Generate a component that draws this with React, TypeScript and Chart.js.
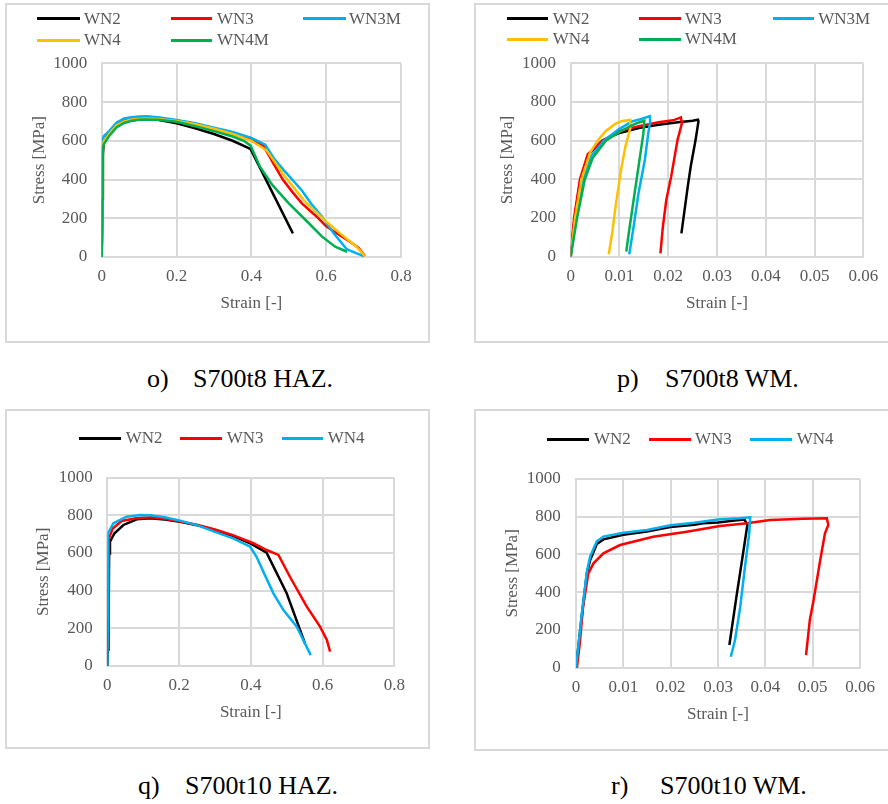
import React, { useEffect, useRef } from "react";
import { Chart, registerables } from "chart.js";
Chart.register(...registerables);

type Pt = [number, number];

// ---------- o) S700t8 HAZ ----------
const o_WN2: Pt[] = [[0,0],[0.002,300],[0.003,520],[0.005,585],[0.01,610],[0.02,635],[0.04,675],[0.06,695],[0.08,705],[0.1,710],[0.12,712],[0.15,708],[0.2,690],[0.25,665],[0.3,635],[0.35,600],[0.39,565],[0.398,557],[0.45,357],[0.511,122]];
const o_WN3: Pt[] = [[0,0],[0.002,300],[0.003,560],[0.006,600],[0.02,640],[0.04,685],[0.06,705],[0.08,715],[0.1,720],[0.12,720],[0.15,716],[0.2,705],[0.25,685],[0.3,662],[0.35,638],[0.4,608],[0.432,575],[0.46,480],[0.484,400],[0.51,335],[0.535,277],[0.575,208],[0.6,158],[0.63,120],[0.655,90],[0.686,48],[0.704,5]];
const o_WN3M: Pt[] = [[0,0],[0.002,430],[0.003,610],[0.006,625],[0.02,650],[0.04,695],[0.06,715],[0.08,722],[0.1,726],[0.12,727],[0.15,722],[0.2,708],[0.25,690],[0.3,668],[0.35,645],[0.4,615],[0.437,580],[0.46,510],[0.486,450],[0.534,346],[0.56,275],[0.589,208],[0.62,122],[0.655,40],[0.68,20],[0.7,5]];
const o_WN4: Pt[] = [[0,0],[0.002,350],[0.003,570],[0.006,600],[0.02,635],[0.04,680],[0.06,700],[0.08,710],[0.1,714],[0.12,715],[0.15,712],[0.2,702],[0.25,685],[0.3,662],[0.35,635],[0.4,600],[0.44,552],[0.49,415],[0.54,294],[0.595,191],[0.637,122],[0.681,53],[0.704,5]];
const o_WN4M: Pt[] = [[0,0],[0.002,300],[0.003,560],[0.005,580],[0.02,625],[0.04,670],[0.06,692],[0.08,703],[0.1,708],[0.12,710],[0.15,708],[0.2,698],[0.25,675],[0.3,650],[0.35,622],[0.38,600],[0.398,575],[0.423,466],[0.456,372],[0.5,277],[0.545,191],[0.589,105],[0.624,53],[0.656,27]];

// ---------- p) S700t8 WM ----------
const p_WN2: Pt[] = [[0,0],[0.0008,200],[0.002,400],[0.0037,530],[0.0065,600],[0.01,640],[0.014,665],[0.018,682],[0.022,695],[0.025,703],[0.0261,708],[0.0262,700],[0.0256,603],[0.0246,465],[0.024,362],[0.0227,121]];
const p_WN3: Pt[] = [[0,0],[0.0007,200],[0.0019,400],[0.0035,530],[0.0065,600],[0.01,650],[0.014,675],[0.018,695],[0.021,705],[0.0226,720],[0.0228,690],[0.0219,603],[0.0206,414],[0.0196,293],[0.0189,155],[0.0184,17]];
const p_WN3M: Pt[] = [[0,0],[0.001,200],[0.0025,400],[0.0042,520],[0.0068,600],[0.0099,660],[0.0126,700],[0.0145,712],[0.0162,727],[0.0163,700],[0.0159,638],[0.0152,500],[0.0139,328],[0.0129,155],[0.012,12]];
const p_WN4: Pt[] = [[0,0],[0.0009,200],[0.0022,400],[0.004,540],[0.0055,600],[0.0072,650],[0.0092,688],[0.0106,702],[0.0122,707],[0.0122,663],[0.0112,569],[0.0102,431],[0.0092,259],[0.0085,121],[0.0078,12]];
const p_WN4M: Pt[] = [[0,0],[0.0013,200],[0.0029,400],[0.0045,510],[0.0072,600],[0.01,645],[0.012,672],[0.0135,690],[0.0151,703],[0.0149,638],[0.0139,465],[0.0129,293],[0.0119,121],[0.0114,26]];

// ---------- q) S700t10 HAZ ----------
const q_WN2: Pt[] = [[0,0],[0.004,300],[0.005,598],[0.0075,660],[0.02,705],[0.045,749],[0.082,779],[0.119,784],[0.16,778],[0.203,766],[0.25,748],[0.3,722],[0.351,690],[0.4,650],[0.444,602],[0.5,386],[0.551,120]];
const q_WN3: Pt[] = [[0.004,80],[0.004,140],[0.004,500],[0.005,680],[0.015,730],[0.04,770],[0.08,785],[0.12,790],[0.16,782],[0.2,768],[0.25,750],[0.3,725],[0.35,695],[0.407,652],[0.444,616],[0.477,590],[0.509,474],[0.556,315],[0.593,209],[0.612,138],[0.621,76]];
const q_WN4: Pt[] = [[0,0],[0.002,300],[0.002,705],[0.017,758],[0.054,793],[0.091,802],[0.12,800],[0.16,790],[0.203,772],[0.25,748],[0.3,712],[0.351,678],[0.398,634],[0.416,580],[0.44,480],[0.463,386],[0.491,297],[0.528,209],[0.551,120],[0.567,58]];

// ---------- r) S700t10 WM ----------
const r_WN2: Pt[] = [[0,0],[0.0012,270],[0.0023,500],[0.003,571],[0.0044,655],[0.0058,680],[0.01,705],[0.015,722],[0.0199,745],[0.025,758],[0.0269,765],[0.03,770],[0.0335,780],[0.0356,785],[0.0362,756],[0.0353,606],[0.034,394],[0.0324,120]];
const r_WN3: Pt[] = [[0.0002,0],[0.0008,129],[0.0015,323],[0.0026,500],[0.0037,553],[0.0058,606],[0.0093,650],[0.0163,694],[0.0234,721],[0.0304,751],[0.0361,765],[0.041,783],[0.048,790],[0.053,792],[0.0533,756],[0.0526,712],[0.0516,571],[0.0502,359],[0.0494,253],[0.0486,67]];
const r_WN4: Pt[] = [[0,0],[0.0012,280],[0.0023,510],[0.003,590],[0.0044,670],[0.0058,695],[0.01,715],[0.015,730],[0.02,755],[0.025,768],[0.03,785],[0.0345,792],[0.0368,797],[0.0366,712],[0.0357,535],[0.0347,323],[0.0336,147],[0.0327,58]];

const COLORS: Record<string, string> = {
  WN2: "#000000",
  WN3: "#ff0000",
  WN3M: "#00b0f0",
  WN4: "#ffc000",
  WN4M: "#00b050",
};

const FONT = "'Liberation Serif', 'Times New Roman', serif";
const GRAY = "#595959";
const GRID = "#d9d9d9";

interface Box { left: number; top: number; width: number; height: number; noRight?: boolean }
interface Plot { l: number; t: number; r: number; b: number }
interface LegendItem { name: string; color: string; x1: number; x2: number; tx: number; ly: number; base: number }
interface Panel {
  box: Box; plot: Plot; xMax: number; xStep: number;
  yTitleX: number; xTitleY: number; yTickGap: number; xTickCY: number;
  series: { name: string; color: string; data: Pt[] }[];
  legend: LegendItem[];
  caption: { label: string; text: string; lx: number; tx: number; base: number };
}

const panels: Panel[] = [
  {
    box: { left: 5, top: 3, width: 425, height: 340 },
    plot: { l: 101.7, t: 63.3, r: 401, b: 257 },
    xMax: 0.8, xStep: 0.2, yTitleX: 39.5, xTitleY: 303.3, yTickGap: 14.4, xTickCY: 276.7,
    series: [
      { name: "WN2", color: COLORS.WN2, data: o_WN2 },
      { name: "WN3", color: COLORS.WN3, data: o_WN3 },
      { name: "WN3M", color: COLORS.WN3M, data: o_WN3M },
      { name: "WN4", color: COLORS.WN4, data: o_WN4 },
      { name: "WN4M", color: COLORS.WN4M, data: o_WN4M },
    ],
    legend: [
      { name: "WN2", color: COLORS.WN2, x1: 37, x2: 80, tx: 84, ly: 18, base: 25 },
      { name: "WN3", color: COLORS.WN3, x1: 171, x2: 212, tx: 217, ly: 18, base: 25 },
      { name: "WN3M", color: COLORS.WN3M, x1: 303, x2: 346, tx: 349, ly: 18, base: 25 },
      { name: "WN4", color: COLORS.WN4, x1: 37, x2: 80, tx: 84, ly: 40, base: 46 },
      { name: "WN4M", color: COLORS.WN4M, x1: 171, x2: 212, tx: 217, ly: 40, base: 46 },
    ],
    caption: { label: "o)", text: "S700t8 HAZ.", lx: 147, tx: 193, base: 388 },
  },
  {
    box: { left: 474, top: 3, width: 414, height: 340, noRight: true },
    plot: { l: 570.7, t: 63.3, r: 870, b: 256.7 },
    xMax: 0.06, xStep: 0.01, yTitleX: 507.3, xTitleY: 303.3, yTickGap: 14.7, xTickCY: 276.7,
    series: [
      { name: "WN2", color: COLORS.WN2, data: p_WN2 },
      { name: "WN3", color: COLORS.WN3, data: p_WN3 },
      { name: "WN3M", color: COLORS.WN3M, data: p_WN3M },
      { name: "WN4", color: COLORS.WN4, data: p_WN4 },
      { name: "WN4M", color: COLORS.WN4M, data: p_WN4M },
    ],
    legend: [
      { name: "WN2", color: COLORS.WN2, x1: 507, x2: 548, tx: 552.7, ly: 18, base: 25 },
      { name: "WN3", color: COLORS.WN3, x1: 639, x2: 681, tx: 685, ly: 18, base: 25 },
      { name: "WN3M", color: COLORS.WN3M, x1: 773, x2: 814, tx: 818.3, ly: 18, base: 25 },
      { name: "WN4", color: COLORS.WN4, x1: 507, x2: 548, tx: 552.7, ly: 39, base: 45 },
      { name: "WN4M", color: COLORS.WN4M, x1: 639, x2: 681, tx: 685, ly: 39, base: 45 },
    ],
    caption: { label: "p)", text: "S700t8 WM.", lx: 617, tx: 665, base: 388 },
  },
  {
    box: { left: 5, top: 409, width: 425, height: 340 },
    plot: { l: 107.3, t: 477.7, r: 394.3, b: 666 },
    xMax: 0.8, xStep: 0.2, yTitleX: 43.8, xTitleY: 712.3, yTickGap: 14.6, xTickCY: 686,
    series: [
      { name: "WN2", color: COLORS.WN2, data: q_WN2 },
      { name: "WN3", color: COLORS.WN3, data: q_WN3 },
      { name: "WN4", color: COLORS.WN3M, data: q_WN4 },
    ],
    legend: [
      { name: "WN2", color: COLORS.WN2, x1: 79, x2: 121, tx: 125.7, ly: 438, base: 444 },
      { name: "WN3", color: COLORS.WN3, x1: 180, x2: 222, tx: 226.7, ly: 438, base: 444 },
      { name: "WN4", color: COLORS.WN3M, x1: 282, x2: 323, tx: 327.7, ly: 438, base: 444 },
    ],
    caption: { label: "q)", text: "S700t10 HAZ.", lx: 138, tx: 185, base: 795 },
  },
  {
    box: { left: 474, top: 409, width: 414, height: 342, noRight: true },
    plot: { l: 576, t: 479, r: 860, b: 667.7 },
    xMax: 0.06, xStep: 0.01, yTitleX: 512.7, xTitleY: 714.3, yTickGap: 15.3, xTickCY: 687.3,
    series: [
      { name: "WN2", color: COLORS.WN2, data: r_WN2 },
      { name: "WN3", color: COLORS.WN3, data: r_WN3 },
      { name: "WN4", color: COLORS.WN3M, data: r_WN4 },
    ],
    legend: [
      { name: "WN2", color: COLORS.WN2, x1: 547, x2: 589, tx: 594, ly: 439, base: 445 },
      { name: "WN3", color: COLORS.WN3, x1: 649, x2: 691, tx: 695, ly: 439, base: 445 },
      { name: "WN4", color: COLORS.WN3M, x1: 750, x2: 792, tx: 796.7, ly: 439, base: 445 },
    ],
    caption: { label: "r)", text: "S700t10 WM.", lx: 611, tx: 660, base: 795 },
  },
];

const fmt = (v: number | string) => String(Math.round(Number(v) * 10000) / 10000);

function ChartPanel({ p }: { p: Panel }) {
  const ref = useRef<HTMLCanvasElement>(null);
  useEffect(() => {
    if (!ref.current) return;
    const { box, plot } = p;
    const fs = 17;
    const lh = fs * 1.2;
    const padTop = plot.t - box.top;
    const padRight = box.left + box.width - plot.r;
    const yW = plot.l - box.left;
    const xH = box.top + box.height - plot.b;
    const yTitlePadTop = p.yTitleX - box.left - lh / 2;
    const xTitlePadBottom = box.height - lh / 2 - (p.xTitleY - box.top);
    const xTickPad = p.xTickCY - plot.b - lh / 2;
    const font = { family: FONT, size: fs };
    const chart = new Chart(ref.current, {
      type: "scatter",
      data: {
        datasets: p.series.map((s, i) => ({
          label: s.name,
          data: s.data.map(([x, y]) => ({ x, y })),
          borderColor: s.color,
          backgroundColor: s.color,
          borderWidth: 2.5,
          pointRadius: 0,
          showLine: true,
          tension: 0,
          fill: false,
          order: -i,
        })),
      },
      options: {
        responsive: false,
        animation: false,
        events: [],
        layout: { padding: { left: 0, top: padTop, right: padRight, bottom: 0 } },
        plugins: { legend: { display: false }, tooltip: { enabled: false } },
        scales: {
          x: {
            type: "linear",
            min: 0,
            max: p.xMax,
            ticks: { stepSize: p.xStep, padding: xTickPad, font, color: GRAY, callback: (v: any) => fmt(v), maxRotation: 0, autoSkip: false },
            grid: { color: GRID, lineWidth: 2, drawTicks: false },
            border: { color: GRID, width: 2 },
            title: { display: true, text: "Strain [-]", font, color: GRAY, padding: { top: 0, bottom: xTitlePadBottom } },
            afterFit: (s: any) => { s.height = xH; },
          },
          y: {
            type: "linear",
            min: 0,
            max: 1000,
            ticks: { stepSize: 200, padding: p.yTickGap, font, color: GRAY, callback: (v: any) => fmt(v) },
            grid: { color: GRID, lineWidth: 2, drawTicks: false },
            border: { color: GRID, width: 2 },
            title: { display: true, text: "Stress [MPa]", font, color: GRAY, padding: { top: yTitlePadTop, bottom: 0 } },
            afterFit: (s: any) => { s.width = yW; },
          },
        },
      } as any,
    });
    return () => chart.destroy();
  }, [p]);

  const { box } = p;
  const legendTextTop = (base: number) => base - 15.74;
  const capTop = p.caption.base - 23.8;
  return (
    <>
      <div
        style={{
          position: "absolute",
          left: box.left,
          top: box.top,
          width: box.width,
          height: box.height,
          boxSizing: "border-box",
          border: `2px solid ${GRID}`,
          borderRight: box.noRight ? "none" : `2px solid ${GRID}`,
        }}
      />
      <canvas
        ref={ref}
        width={box.width}
        height={box.height}
        style={{ position: "absolute", left: box.left, top: box.top, width: box.width, height: box.height }}
      />
      {p.legend.map((it) => (
        <React.Fragment key={it.name}>
          <div
            style={{
              position: "absolute",
              left: it.x1,
              top: it.ly - 1,
              width: it.x2 - it.x1,
              height: 3,
              background: it.color,
            }}
          />
          <span
            style={{
              position: "absolute",
              left: it.tx,
              top: legendTextTop(it.base),
              fontFamily: FONT,
              fontSize: 17,
              lineHeight: "20px",
              color: GRAY,
              whiteSpace: "nowrap",
            }}
          >
            {it.name}
          </span>
        </React.Fragment>
      ))}
      <span style={{ position: "absolute", left: p.caption.lx, top: capTop, fontFamily: FONT, fontSize: 26, lineHeight: "30px", color: "#000", whiteSpace: "nowrap" }}>
        {p.caption.label}
      </span>
      <span style={{ position: "absolute", left: p.caption.tx, top: capTop, fontFamily: FONT, fontSize: 26, lineHeight: "30px", color: "#000", whiteSpace: "nowrap" }}>
        {p.caption.text}
      </span>
    </>
  );
}

export default function App() {
  return (
    <div style={{ position: "absolute", left: 0, top: 0, width: 888, height: 804, overflow: "hidden", background: "#fff" }}>
      {panels.map((p, i) => (
        <ChartPanel key={i} p={p} />
      ))}
    </div>
  );
}
